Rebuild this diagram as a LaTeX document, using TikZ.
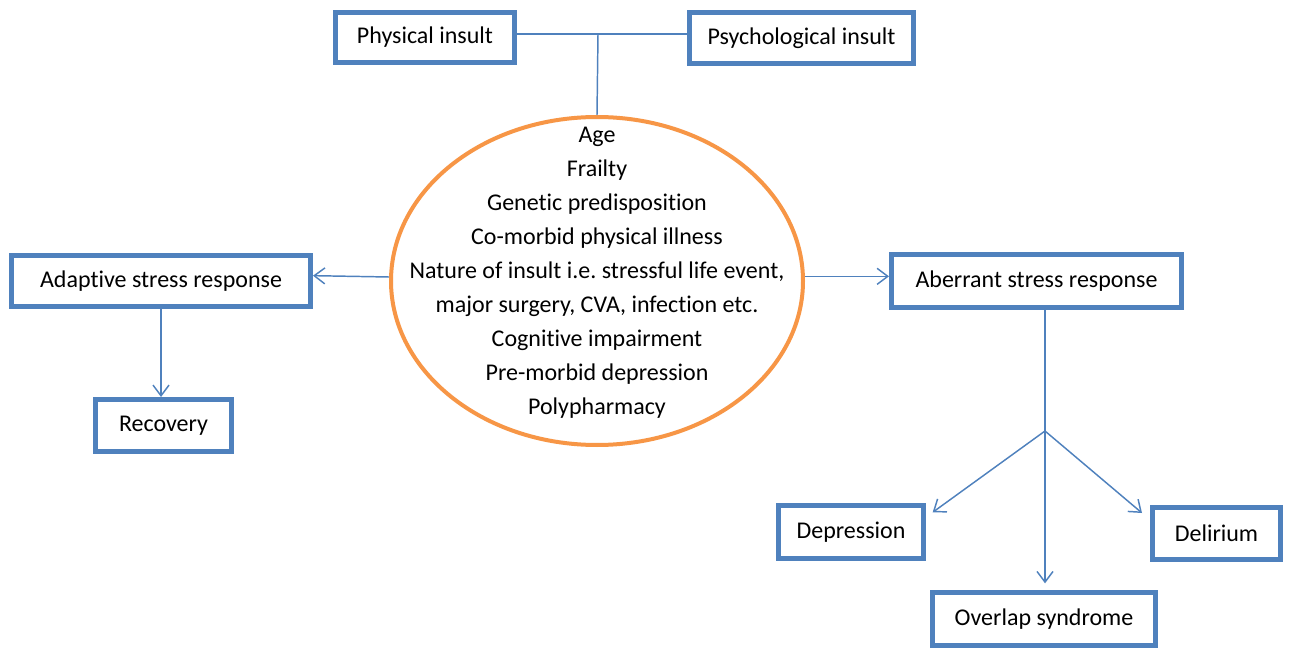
\documentclass[tikz,border=0pt]{standalone}
\usepackage{fontspec}
\setmainfont{Carlito}[Ligatures=NoCommon]
\usetikzlibrary{arrows.meta,shapes.geometric}
\definecolor{boxblue}{HTML}{4F81BD}
\definecolor{ellorange}{HTML}{F79646}
\frenchspacing
\begin{document}
\begin{tikzpicture}[x=0.75pt,y=-0.75pt,
  box/.style={draw=boxblue,line width=3.75pt,fill=white,inner sep=0pt,
    font=\fontsize{18}{21}\selectfont,text=black},
  conn/.style={draw=boxblue,line width=1.1pt},
  arr/.style={conn,-{Straight Barb[length=8pt,width=12pt,line width=1.1pt]}}]
\useasboundingbox (0,0) rectangle (1290,649);
% ellipse
\node[draw=ellorange,line width=3pt,fill=white,ellipse,inner sep=0pt,
  minimum width=412*0.75pt,minimum height=328*0.75pt] (ell) at (597,281) {};
\node[align=center,font=\fontsize{18}{25.5}\selectfont,inner sep=0pt] (txt) at (597,273)
  {Age\\Frailty\\Genetic predisposition\\Co-morbid physical illness\\
   Nature of insult i.e. stressful life event,\\major surgery, CVA, infection etc.\\
   Cognitive impairment\\Pre-morbid depression\\Polypharmacy};
% boxes
\node[box,minimum width=179*0.75pt,minimum height=50*0.75pt] (phys) at (425,37.5) {Physical insult};
\node[box,minimum width=224*0.75pt,minimum height=51*0.75pt] (psych) at (801.5,38) {Psychological insult};
\node[box,minimum width=299*0.75pt,minimum height=51*0.75pt] (ada) at (161,281) {Adaptive stress response};
\node[box,minimum width=290*0.75pt,minimum height=53*0.75pt] (abe) at (1036.5,281) {Aberrant stress response};
\node[box,minimum width=136*0.75pt,minimum height=52*0.75pt] (rec) at (163.5,425.5) {Recovery};
\node[box,minimum width=145*0.75pt,minimum height=53*0.75pt] (dep) at (851,532) {Depression};
\node[box,minimum width=128*0.75pt,minimum height=52*0.75pt] (del) at (1216.5,533.5) {Delirium};
\node[box,minimum width=223*0.75pt,minimum height=53*0.75pt] (ovl) at (1044,619) {Overlap syndrome};
% connectors
\coordinate (j1) at (598,34);
\coordinate (j2) at (1045,431);
\draw[conn] (phys.east |- j1) -- (psych.west |- j1);
\draw[conn] (j1) -- (ell.north);
\draw[arr] ([yshift=3pt]ell.west) -- ([yshift=4pt]ada.east);
\draw[arr] ([yshift=3.5pt]ell.east) -- ([yshift=3.5pt]abe.west);
\draw[arr] (ada.south -| 161,0) -- (rec.north -| 161,0);
\draw[conn] (abe.south -| j2) -- (j2);
\draw[arr] (j2) -- ([xshift=5pt,yshift=-7pt]dep.north east);
\draw[arr] (j2) -- ([xshift=-6pt,yshift=-6pt]del.north west);
\draw[arr,shorten >=5pt] (j2) -- (j2 |- ovl.north);
\end{tikzpicture}
\end{document}
